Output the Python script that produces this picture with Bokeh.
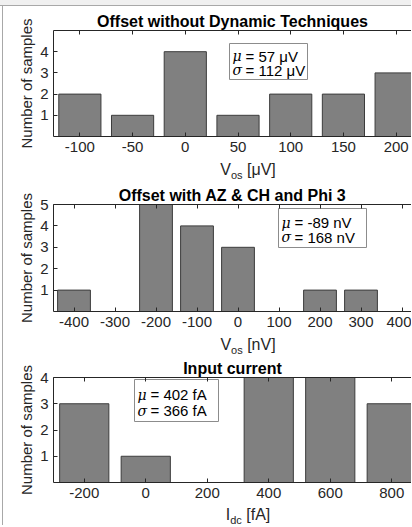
from bokeh.plotting import figure
from bokeh.models import (Label, LinearAxis, FixedTicker, Range1d, Title, Div,
                          CustomJSTickFormatter)
from bokeh.layouts import column, row
from bokeh.embed import file_html
from bokeh.resources import INLINE

# ---------------- data ----------------
p1_centers = [-100, -50, 0, 50, 100, 150, 200]
p1_counts = [2, 1, 4, 1, 2, 2, 3]
p1_xticks = [-100, -50, 0, 50, 100, 150, 200]
p1_yticks = [1, 2, 3, 4]
p1_title = "Offset without Dynamic Techniques"
p1_stats = ["= 57 μV", "= 112 μV"]
p1_xlabel = "V<sub>os</sub> [μV]"

p2_centers = [-400, -300, -200, -100, 0, 100, 200, 300, 400]
p2_counts = [1, 0, 5, 4, 3, 0, 1, 1, 0]
p2_xticks = [-400, -300, -200, -100, 0, 100, 200, 300, 400]
p2_yticks = [1, 2, 3, 4, 5]
p2_title = "Offset with AZ & CH and Phi 3"
p2_stats = ["= -89 nV", "= 168 nV"]
p2_xlabel = "V<sub>os</sub> [nV]"

p3_centers = [-200, 0, 200, 400, 600, 800]
p3_counts = [3, 1, 0, 4, 4, 3]
p3_xticks = [-200, 0, 200, 400, 600, 800]
p3_yticks = [1, 2, 3, 4]
p3_title = "Input current"
p3_stats = ["= 402 fA", "= 366 fA"]
p3_xlabel = "I<sub>dc</sub> [fA]"

FONT = "Liberation Sans"
AX = "#262626"
W = 408
LEFT = 50
FRAME_W = W - LEFT


def make(centers, counts, xticks, yticks, title, stats, xstart, xfull_end,
         ymax, barw, top_b, frame_h, bot_b, box):
    full_w_units = (xfull_end - xstart)
    ppu = (FRAME_W + 11) / full_w_units
    xend = xstart + FRAME_W / ppu
    H = top_b + frame_h + bot_b
    p = figure(width=W, height=H, output_backend="svg", toolbar_location=None,
               x_range=Range1d(xstart, xend), y_range=Range1d(0, ymax),
               min_border_left=LEFT, min_border_right=0,
               min_border_top=0, min_border_bottom=bot_b,
               x_axis_location=None, y_axis_location=None)
    p.outline_line_color = None
    p.grid.visible = False
    p.background_fill_color = "white"
    p.border_fill_color = "white"

    p.vbar(x=centers, top=counts, width=barw, bottom=0,
           fill_color="#808080", line_color="#3c3c3c", line_width=1)

    fmt = CustomJSTickFormatter(code="return tick.toString();")

    def style(ax):
        ax.axis_line_color = AX
        ax.major_tick_line_color = AX
        ax.minor_tick_line_color = None
        ax.major_tick_in = 4
        ax.major_tick_out = 0
        ax.major_label_text_font = FONT
        ax.major_label_text_font_size = "15px"
        ax.major_label_text_color = AX
        ax.major_label_standoff = 5

    xb = LinearAxis(ticker=FixedTicker(ticks=xticks), formatter=fmt)
    style(xb)
    xb.major_label_standoff = 5
    p.add_layout(xb, "below")
    xt = LinearAxis(ticker=FixedTicker(ticks=xticks),
                    formatter=CustomJSTickFormatter(code="return '';"))
    style(xt)
    xt.major_label_standoff = 0
    xt.major_label_text_font_size = "1px"
    p.add_layout(xt, "above")
    yl = LinearAxis(ticker=FixedTicker(ticks=yticks), formatter=fmt,
                    axis_label="Number of samples")
    style(yl)
    yl.axis_label_text_font = FONT
    yl.axis_label_text_font_size = "15px"
    yl.axis_label_text_font_style = "normal"
    yl.axis_label_text_color = AX
    yl.axis_label_standoff = 2
    p.add_layout(yl, "left")

    p.add_layout(Title(text=title, text_font=FONT, text_font_size="16px",
                       text_font_style="bold", text_color="black", align="center",
                       offset=5, standoff=2), "above")
    p.min_border_top = top_b

    ypu = frame_h / ymax

    def X(px):
        return xstart + px / ppu

    def Y(py):
        return ymax - py / ypu

    bx0, bx1, by0, by1 = box
    p.quad(left=[X(bx0)], right=[X(bx1)], top=[Y(by0)], bottom=[Y(by1)],
           fill_color="white", line_color="#8c8c8c", line_width=1)
    r1 = by0 + (by1 - by0) * 0.36
    r2 = by0 + (by1 - by0) * 0.74
    for (ry, g, s) in [(r1, "μ", stats[0]), (r2, "σ", stats[1])]:
        p.add_layout(Label(x=X(bx0 + 3), y=Y(ry), text=g, text_font="DejaVu Serif",
                           text_font_style="italic", text_font_size="14px",
                           text_color="black", text_baseline="middle"))
        p.add_layout(Label(x=X(bx0 + 16), y=Y(ry), text=s, text_font=FONT,
                           text_font_size="15px", text_color="black",
                           text_baseline="middle"))
    return p


def xlabel(html, h, lh, overflow="hidden"):
    return Div(text='<span style="position:relative; left:41px;">' + html.replace(
        "<sub>", '<sub style="font-size:11px; vertical-align:-4px;">') + "</span>",
        width=W, height=h, margin=0,
        styles={"font-family": FONT, "font-size": "16px", "color": AX,
                "text-align": "center", "line-height": str(lh) + "px",
                "overflow": overflow})


f1 = make(p1_centers, p1_counts, p1_xticks, p1_yticks, p1_title, p1_stats,
          -125, 225, 5, 40, 24, 106, 22, (176, 254, 13, 49))
f2 = make(p2_centers, p2_counts, p2_xticks, p2_yticks, p2_title, p2_stats,
          -450, 450, 5, 80, 21, 107, 22, (225, 313, 4, 43))
f3 = make(p3_centers, p3_counts, p3_xticks, p3_yticks, p3_title, p3_stats,
          -300, 900, 4, 160, 21, 105, 22, (81, 165, 2, 44))

plots = column(f1, xlabel(p1_xlabel, 25, 23), f2, xlabel(p2_xlabel, 23, 23), f3,
               xlabel(p3_xlabel, 21, 21, "visible"), spacing=0)
top_band = Div(text="", width=411, height=5, margin=0,
               styles={"background-color": "#f0f0f0"})
top_line = Div(text="", width=411, height=1, margin=0,
               styles={"background-color": "#a8a8a8"})
left_pad = Div(text="", width=2, height=519, margin=0,
               styles={"background-color": "white"})
left_line = Div(text="", width=1, height=519, margin=0,
                styles={"background-color": "#a8a8a8"})
layout = column(top_band, top_line, row(left_pad, left_line, plots, spacing=0),
                spacing=0, styles={"vertical-align": "top"})
open("out.html", "w").write(file_html(layout, INLINE))
